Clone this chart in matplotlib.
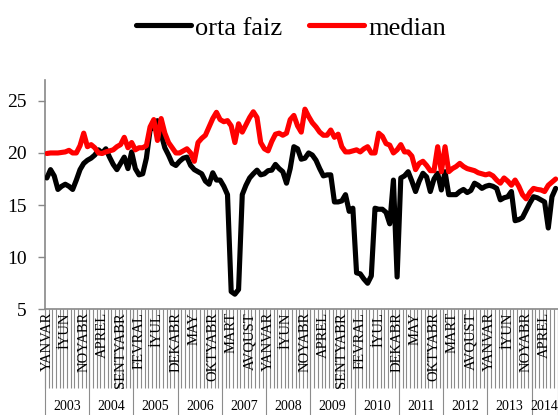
import matplotlib.pyplot as plt
import matplotlib.transforms as mtransforms

plt.rcParams['font.family'] = ['Liberation Serif', 'DejaVu Serif']

# month names (Azerbaijani), years on the axis
months = ["YANVAR", "FEVRAL", "MART", "APREL", "MAY", "İYUN",
          "İYUL", "AVQUST", "SENTYABR", "OKTYABR", "NOYABR", "DEKABR"]
years = ["2003", "2004", "2005", "2006", "2007", "2008", "2009",
         "2010", "2011", "2012", "2013", "2014"]
months_per_year = [12, 12, 12, 12, 12, 12, 12, 12, 12, 12, 12, 7]

# orta faiz (black), Jan 2003 - Jul 2014
orta_faiz = [
    17.6, 18.4, 17.8, 16.5, 16.8, 17.0, 16.8, 16.5, 17.4, 18.4, 19.0, 19.3,
    19.5, 19.8, 20.3, 20.0, 20.4, 19.6, 18.9, 18.4, 19.0, 19.6, 18.5, 20.1,
    18.5, 17.9, 18.0, 19.5, 22.2, 22.5, 23.1, 21.8, 20.5, 19.8, 19.0, 18.8,
    19.2, 19.5, 19.6, 18.8, 18.4, 18.2, 18.0, 17.3, 17.0, 18.1, 17.4, 17.4,
    16.8, 16.0, 6.7, 6.45, 6.9, 16.0, 16.9, 17.6, 18.0, 18.35, 17.9, 18.0,
    18.3, 18.35, 18.9, 18.5, 18.2, 17.1, 18.5, 20.6, 20.4, 19.4, 19.5, 20.0,
    19.8, 19.3, 18.5, 17.8, 17.9, 17.9, 15.3, 15.3, 15.4, 16.0, 14.4, 14.7,
    8.5, 8.4, 7.9, 7.5, 8.2, 14.7, 14.6, 14.6, 14.3, 13.2, 17.4, 8.1,
    17.6, 17.8, 18.2, 17.3, 16.3, 17.3, 18.05, 17.7, 16.3, 17.5, 18.05, 16.45,
    18.2, 16.0, 16.0, 16.0, 16.3, 16.5, 16.2, 16.4, 17.1, 16.9, 16.6, 16.8,
    16.9, 16.8, 16.6, 15.5, 15.7, 15.8, 16.3, 13.5, 13.6, 13.8, 14.5, 15.2,
    15.8, 15.7, 15.5, 15.3, 12.8, 15.8, 16.6,
]

# median (red)
median = [
    19.95, 20.0, 20.0, 20.0, 20.05, 20.1, 20.25, 20.0, 20.0, 20.7, 21.9, 20.6,
    20.8, 20.5, 20.0, 19.95, 20.1, 20.2, 20.3, 20.6, 20.8, 21.5, 20.5, 21.0,
    20.3, 20.5, 20.5, 20.7, 22.5, 23.2, 21.2, 23.3, 21.9, 21.0, 20.5, 20.0,
    20.0, 20.2, 20.4, 20.0, 19.2, 21.0, 21.4, 21.7, 22.5, 23.3, 23.9, 23.2,
    23.0, 23.1, 22.6, 21.0, 22.8, 22.0, 22.7, 23.4, 23.95, 23.4, 21.0, 20.4,
    20.2, 21.1, 21.8, 21.9, 21.7, 21.9, 23.2, 23.6, 22.6, 22.0, 24.2, 23.5,
    22.9, 22.5, 22.0, 21.7, 21.7, 22.2, 21.5, 21.8, 20.6, 20.1, 20.1, 20.2,
    20.3, 20.1, 20.4, 20.6, 20.0, 20.0, 21.9, 21.6, 20.9, 20.75, 20.0, 20.3,
    20.8, 20.1, 20.1, 19.7, 18.4, 19.0, 19.2, 18.8, 18.3, 18.3, 20.6, 18.2,
    20.6, 18.2, 18.5, 18.7, 19.0, 18.7, 18.5, 18.4, 18.3, 18.1, 18.0, 17.9,
    18.0, 17.8, 17.4, 17.1, 17.6, 17.3, 16.9, 17.4, 16.8, 16.0, 15.6, 16.2,
    16.6, 16.5, 16.45, 16.3, 16.9, 17.2, 17.5,
]

n = len(orta_faiz)
x = list(range(n))

fig = plt.figure(figsize=(5.58, 4.15), dpi=100)
ax = fig.add_axes([45 / 558, 1 - 309.3 / 415, 512.5 / 558, 229.3 / 415])

ax.plot(x, orta_faiz, color="black", lw=3.7, solid_joinstyle="round",
        solid_capstyle="round", label="orta faiz", zorder=3)
ax.plot(x, median, color="#ff0000", lw=3.7, solid_joinstyle="round",
        solid_capstyle="round", label="median", zorder=4)

ax.set_xlim(-0.5, n - 0.5)
ax.set_ylim(5, 27)
ax.set_yticks([5, 10, 15, 20, 25])
ax.tick_params(axis="y", labelsize=14, length=5, width=1, color="#888888",
               pad=8)
ax.set_xticks([])
for s in ["top", "right"]:
    ax.spines[s].set_visible(False)
for s in ["left", "bottom"]:
    ax.spines[s].set_color("#888888")
    ax.spines[s].set_linewidth(1.2)

# category axis: month boundary lines, month labels, year row
tr = mtransforms.blended_transform_factory(ax.transData, fig.transFigure)
y_axis = 1 - 309.3 / 415
y_mid = 1 - 388 / 415
ax.vlines([i - 0.5 for i in range(n + 1)], y_mid, y_axis, transform=tr,
          colors="#8c8c8c", lw=0.8, clip_on=False)

for i in range(0, n, 5):
    ax.text(i, 1 - 312 / 415, months[i % 12], transform=tr, rotation=90,
            ha="center", va="top", fontsize=10.5)

start = 0
bounds = [0]
for yr, m in zip(years, months_per_year):
    ax.text(start + (m - 1) / 2, 1 - 406 / 415, yr, transform=tr,
            ha="center", va="center", fontsize=10)
    start += m
    bounds.append(start)
ax.vlines([b - 0.5 for b in bounds], 0, y_axis, transform=tr,
          colors="#8c8c8c", lw=0.8, clip_on=False)

fig.legend(loc="center", bbox_to_anchor=(0.521, 0.933), ncol=2,
           frameon=False, fontsize=19, handlelength=2.1, handletextpad=0.15,
           columnspacing=1.0)

fig.savefig("out.png", dpi=100)
